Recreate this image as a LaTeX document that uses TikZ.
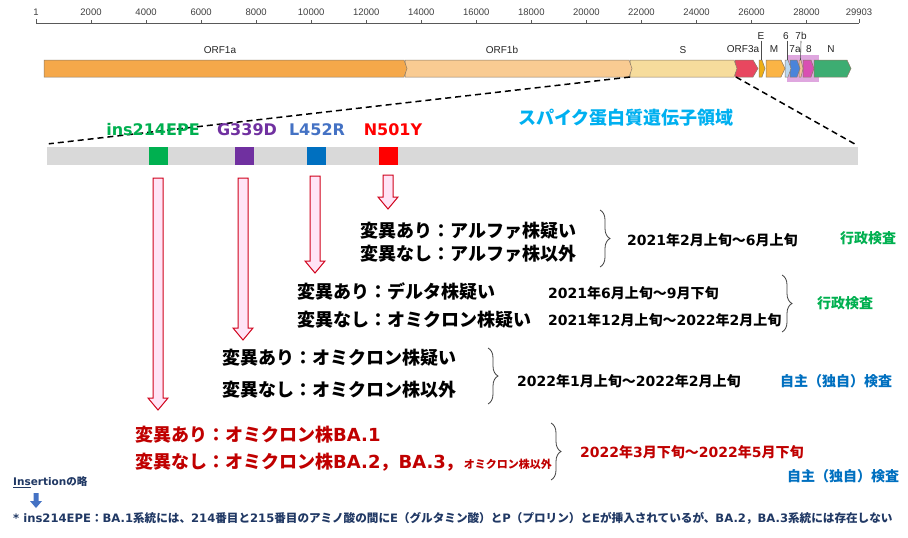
\documentclass[tikz,border=0pt]{standalone}
\usepackage{fontspec}
\setmainfont{Noto Sans CJK JP}
\newfontfamily\lat{DejaVu Sans}
\newfontfamily\arialf{Liberation Sans}
\usetikzlibrary{decorations.pathreplacing,calc}
\definecolor{orfa}{HTML}{F5A84A}
\definecolor{orfb}{HTML}{F9CB92}
\definecolor{scol}{HTML}{F6DC9C}
\definecolor{orf3}{HTML}{E8475F}
\definecolor{ecol}{HTML}{EEAF16}
\definecolor{mcol}{HTML}{FBB445}
\definecolor{sixc}{HTML}{BCD8F0}
\definecolor{sevenac}{HTML}{4A84DA}
\definecolor{sevenbc}{HTML}{F0C39A}
\definecolor{eightc}{HTML}{D94FB3}
\definecolor{ncol}{HTML}{3DAD72}
\definecolor{hl}{HTML}{D58AD5}
\definecolor{geneedge}{HTML}{8A7A66}
\definecolor{gbar}{HTML}{D9D9D9}
\definecolor{mgreen}{HTML}{00B050}
\definecolor{mpurple}{HTML}{7030A0}
\definecolor{mlblue}{HTML}{4472C4}
\definecolor{mblue}{HTML}{0070C0}
\definecolor{mred}{HTML}{FF0000}
\definecolor{dred}{HTML}{C00000}
\definecolor{sky}{HTML}{00B0F0}
\definecolor{navy}{HTML}{203864}
\definecolor{arrfill}{HTML}{FFE4F6}
\definecolor{arrline}{HTML}{D0021B}
\definecolor{bracec}{HTML}{404040}
\newcommand\latx[1]{{\lat #1}}
\newcommand\genepoly[4]{%
  \filldraw[fill=#4, draw=geneedge, line width=0.5pt] (#1,60) -- (#2-#3,60) -- (#2,68.5) -- (#2-#3,77) -- (#1,77) -- cycle;}
\newcommand\blockdown[2]{%
  \draw[blockarr] let \p1=(#1), \p2=(#2) in
    (\x1-5pt,\y1) -- (\x1+5pt,\y1) -- (\x1+5pt,\y2+12pt) -- (\x1+10pt,\y2+12pt)
    -- (\x1,\y2) -- (\x1-10pt,\y2+12pt) -- (\x1-5pt,\y2+12pt) -- cycle;}
\tikzset{
  ruler/.style={draw=black!65, line width=0.9pt},
  tick/.style={font=\arialf\fontsize{9.5}{10}\selectfont, text=black!75, inner sep=0pt},
  genelab/.style={font=\arialf\fontsize{10}{11}\selectfont, text=black!85, inner sep=0pt},
  genelabline/.style={draw=black!70, line width=0.6pt},
  zoomline/.style={draw=black, line width=1.5pt, dash pattern=on 6pt off 4pt},
  mutsq/.style={minimum width=19pt, minimum height=18pt, inner sep=0pt},
  mutlab/.style={font=\lat\bfseries\fontsize{16}{18}\selectfont, inner sep=0pt},
  blockarr/.style={draw=arrline, fill=arrfill, line width=1pt, line join=miter},
  jtext/.style={font=\bfseries\fontsize{18}{20}\selectfont, anchor=west, inner sep=0pt},
  datetext/.style={font=\bfseries\fontsize{14}{16}\selectfont, anchor=west, inner sep=0pt},
  brc/.style={draw=bracec, line width=0.8pt, decorate, decoration={brace, amplitude=10pt}},
  notetext/.style={font=\bfseries\fontsize{11.6}{13}\selectfont, text=navy, anchor=west, inner sep=0pt}
}
\begin{document}
\begin{tikzpicture}[x=1pt,y=-1pt]
\useasboundingbox (0,0) rectangle (908,538);
\fill[white] (0,0) rectangle (908,538);
% ruler
\draw[ruler] (36,23) -- (859,23);
\draw[ruler] (36,19) -- (36,23);
\draw[ruler] (859,19) -- (859,23);
\node[tick] (t1) at (36,12) {1};
\foreach \k in {1,...,14}{
  \pgfmathsetmacro\xx{36+(\k*2-0.001)*27.52}
  \pgfmathtruncatemacro\lab{\k*2}
  \draw[ruler] (\xx,20) -- (\xx,23);
  \node[tick] (t\k) at (\xx,12) {\lab000};
}
\node[tick] (tend) at (859,12) {29903};
% highlight
\fill[hl, opacity=0.75] (787,55) rectangle (819,82);
% genes (right to left)
\genepoly{814}{851}{4}{ncol}
\genepoly{803}{814}{3}{eightc}
\genepoly{799}{803}{2}{sevenbc}
\genepoly{790}{800}{3}{sevenac}
\genepoly{785}{791}{3}{sixc}
\genepoly{766}{785}{4}{mcol}
\genepoly{759}{765}{3}{ecol}
\genepoly{735}{758}{5}{orf3}
\genepoly{630}{737}{3}{scol}
\genepoly{405}{632}{3}{orfb}
\genepoly{44}{407}{3}{orfa}
\coordinate (Sl) at (630,77);
\coordinate (Sr) at (736,77);
% gene labels
\node[genelab] (lORF1a) at (220,50) {ORF1a};
\node[genelab] (lORF1b) at (502,50) {ORF1b};
\node[genelab] (lS) at (683,50) {S};
\node[genelab] (lORF3a) at (743,49) {ORF3a};
\node[genelab] (lM) at (774,49) {M};
\node[genelab] (l7a) at (795,49) {7a};
\node[genelab] (l8) at (809,49) {8};
\node[genelab] (lN) at (831,49) {N};
\node[genelab] (lE) at (761,36) {E};
\node[genelab] (l6) at (786,36) {6};
\node[genelab] (l7b) at (801,36) {7b};
\coordinate (gE) at (761.5,60);
\coordinate (g6) at (787.5,60);
\coordinate (g7b) at (800.5,60);
\draw[genelabline] (lE.south) ++(0.5,1) -- (gE);
\draw[genelabline] (l6.south) ++(1.5,1) -- (g6);
\draw[genelabline] (l7b.south) ++(0,1) -- (g7b);
% spike bar
\node[fill=gbar, minimum width=811pt, minimum height=18pt, inner sep=0pt] (spike) at (452.5,156) {};
\draw[zoomline] (Sl) -- ($(spike.north west)+(2,-3)$);
\draw[zoomline] (Sr) -- ($(spike.north east)+(-2,-2)$);
\node[font=\bfseries\fontsize{18}{20}\selectfont, text=sky, inner sep=0pt] (spikelab) at (626,118) {スパイク蛋白質遺伝子領域};
% mutation squares
\node[mutsq, fill=mgreen] (sqG) at (158.5,156) {};
\node[mutsq, fill=mpurple] (sqP) at (244.5,156) {};
\node[mutsq, fill=mblue] (sqB) at (316,156) {};
\node[mutsq, fill=mred] (sqR) at (388.5,156) {};
\node[mutlab, text=mgreen] (labG) at (153,130) {ins214EPE};
\node[mutlab, text=mpurple] (labP) at (247,130) {G339D};
\node[mutlab, text=mlblue] (labB) at (317,130) {L452R};
\node[mutlab, text=mred] (labR) at (393,130) {N501Y};
% block arrows
\coordinate (aGt) at (158,178); \coordinate (aGb) at (158,410);
\coordinate (aPt) at (243,178); \coordinate (aPb) at (243,340);
\coordinate (aBt) at (315,176); \coordinate (aBb) at (315,273);
\coordinate (aRt) at (388,175); \coordinate (aRb) at (388,209);
\blockdown{aGt}{aGb}
\blockdown{aPt}{aPb}
\blockdown{aBt}{aBb}
\blockdown{aRt}{aRb}
% block 1
\node[jtext] (t1a) at (360,231) {変異あり：アルファ株疑い};
\node[jtext] (t1b) at (360,254) {変異なし：アルファ株以外};
\draw[brc] (600,210) -- (600,267);
\node[datetext] (d1) at (627,240) {\latx{2021}年\latx{2}月上旬～\latx{6}月上旬};
\node[datetext, text=mgreen] (k1) at (840,238) {行政検査};
% block 2
\node[jtext] (t2a) at (297,291) {変異あり：デルタ株疑い};
\node[jtext] (t2b) at (297,320) {変異なし：オミクロン株疑い};
\draw[brc] (782,275) -- (782,332);
\node[datetext] (d2) at (548,293) {\latx{2021}年\latx{6}月上旬～\latx{9}月下旬};
\node[datetext] (d3) at (548,320) {\latx{2021}年\latx{12}月上旬～\latx{2022}年\latx{2}月上旬};
\node[datetext, text=mgreen] (k2) at (817,303) {行政検査};
% block 3
\node[jtext] (t3a) at (222,358) {変異あり：オミクロン株疑い};
\node[jtext] (t3b) at (222,390) {変異なし：オミクロン株以外};
\draw[brc] (488,348) -- (488,404);
\node[datetext] (d4) at (517,381) {\latx{2022}年\latx{1}月上旬～\latx{2022}年\latx{2}月上旬};
\node[datetext, text=mblue] (k3) at (780,381) {自主（独自）検査};
% block 4
\node[jtext, text=dred] (t4a) at (135,435) {変異あり：オミクロン株\latx{BA.1}};
\node[jtext, text=dred] (t4b) at (135,462) {変異なし：オミクロン株\latx{BA.2}，\latx{BA.3}，{\fontsize{11}{12}\selectfont オミクロン株以外}};
\draw[brc] (551,423) -- (551,480);
\node[datetext, text=dred] (d5) at (580,452) {\latx{2022}年\latx{3}月下旬～\latx{2022}年\latx{5}月下旬};
\node[datetext, text=mblue] (k4) at (787,476) {自主（独自）検査};
% note
\node[notetext, font=\bfseries\fontsize{10.5}{12}\selectfont] (ins) at (13,482) {\latx{\underline{Ins}ertion}の略};
\coordinate (nAt) at (36,493);
\coordinate (nAb) at (36,508);
\fill[mlblue] let \p1=(nAt), \p2=(nAb) in
  (\x1-2.5pt,\y1) -- (\x1+2.5pt,\y1) -- (\x1+2.5pt,\y2+7pt) -- (\x1+6pt,\y2+7pt)
  -- (\x1,\y2) -- (\x1-6pt,\y2+7pt) -- (\x1-2.5pt,\y2+7pt) -- cycle;
\node[notetext] (note) at (13,518) {\latx{* ins214EPE}：\latx{BA.1}系統には、\latx{214}番目と\latx{215}番目のアミノ酸の間に\latx{E}（グルタミン酸）と\latx{P}（プロリン）と\latx{E}が挿入されているが、\latx{BA.2}，\latx{BA.3}系統には存在しない};
\end{tikzpicture}
\end{document}
